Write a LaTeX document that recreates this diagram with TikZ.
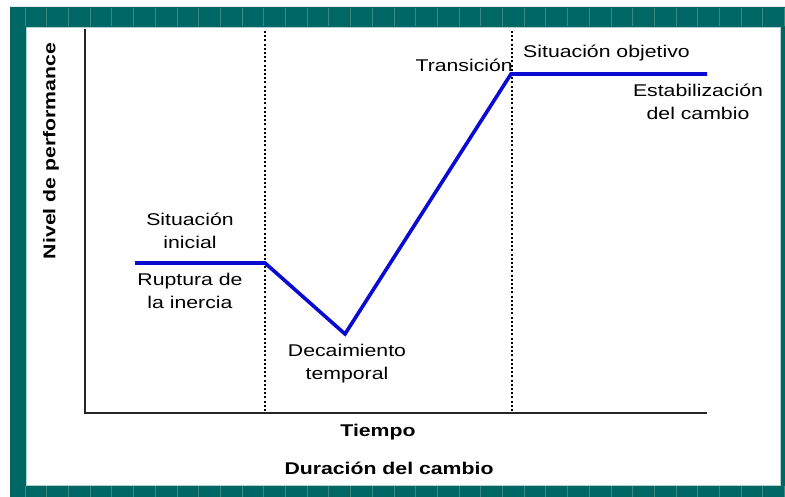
\documentclass[tikz,border=0pt]{standalone}
\usepackage{fontspec}
\setmainfont[FakeStretch=1.25]{Liberation Sans}
\definecolor{frameteal}{RGB}{0,104,100}
\definecolor{ticklight}{RGB}{60,138,133}
\definecolor{curveblue}{RGB}{10,10,210}
\begin{document}
\begin{tikzpicture}[x=1pt,y=-1pt,
  lbl/.style={inner sep=0pt,align=center,font=\fontsize{17}{23}\selectfont},
  axlbl/.style={inner sep=0pt,align=center,font=\fontsize{17}{23}\selectfont\bfseries},
  axisline/.style={line width=2.8pt,black!85},
  guide/.style={line width=2.6pt,dash pattern=on 2pt off 2.2pt,black},
  curve/.style={line width=3.6pt,curveblue,line join=miter}]
\useasboundingbox (0,0) rectangle (785,497);
% frame
\fill[white] (0,0) rectangle (785,497);
\fill[frameteal,even odd rule] (10,7) rectangle (785,497) (26,27) rectangle (780,485);
\foreach \i in {0,...,35}{
  \draw[ticklight,line width=0.7pt] ({25+21.7*\i},8) -- ({25+21.7*\i},26);
  \draw[ticklight,line width=0.7pt] ({25+21.7*\i},486) -- ({25+21.7*\i},497);
}
\draw[white!70!frameteal,line width=0.8pt] (26,27) rectangle (780,485);
% axes
\coordinate (ytop) at (85,29);
\coordinate (org) at (85,413);
\coordinate (xend) at (707,413);
\draw[axisline] (ytop) -- (org) -- (xend);
% dotted guides
\coordinate (g1t) at (265,31);
\coordinate (g1b) at (265,411);
\coordinate (g2t) at (512,31);
\coordinate (g2b) at (512,411);
\draw[guide] (g1t) -- (g1b);
\draw[guide] (g2t) -- (g2b);
% curve
\coordinate (p1) at (135,263);
\coordinate (p2) at (265,263);
\coordinate (p3) at (345,334);
\coordinate (p4) at (511,74);
\coordinate (p5) at (707,74);
\draw[curve] (p1) -- (p2) -- (p3) -- (p4) -- (p5);
% labels
\node[lbl] (sini) at (190,231) {Situación\\inicial};
\node[lbl] (rup) at (190,291) {Ruptura de\\la inercia};
\node[lbl] (dec) at (347,364) {Decaimiento\\temporal};
\node[lbl,anchor=east] (tra) at (513,65) {Transición};
\node[lbl,anchor=west] (sobj) at (523,53) {Situación objetivo};
\node[lbl] (est) at (698,102) {Estabilización\\del cambio};
\node[axlbl] (tiem) at (378,432) {Tiempo};
\node[axlbl] (dur) at (389,468) {Duración del cambio};
\node[axlbl,rotate=90] (niv) at (51,151) {Nivel de performance};
\end{tikzpicture}
\end{document}
